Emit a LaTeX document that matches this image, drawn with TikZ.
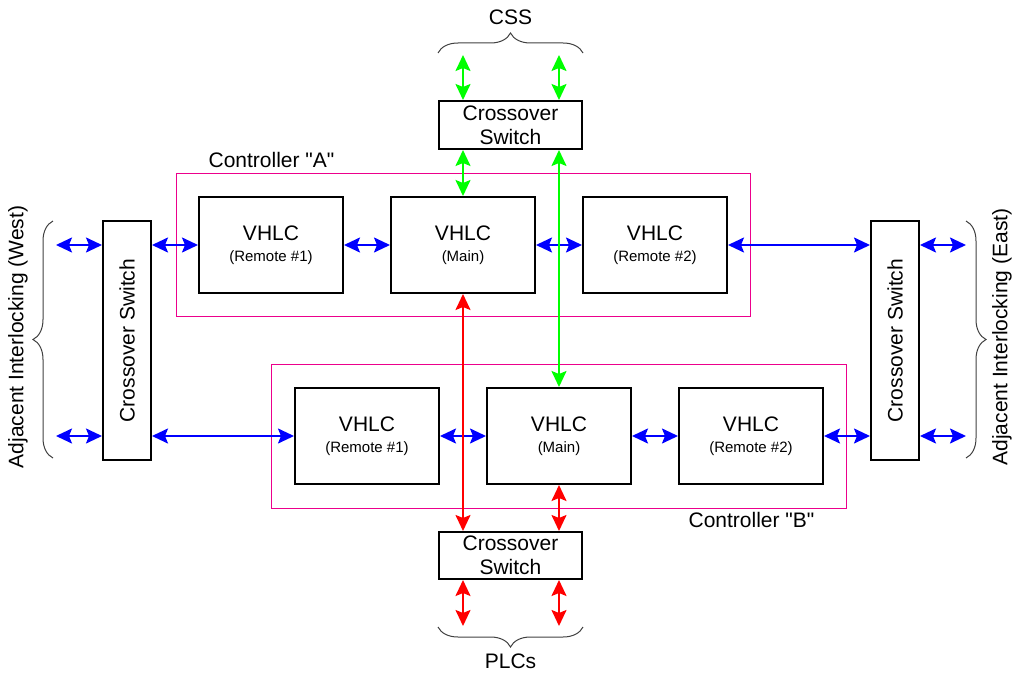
\documentclass[tikz,border=0pt]{standalone}
\usepackage{fontspec}
\setmainfont{Liberation Sans}[Ligatures=TeXOff]
\usetikzlibrary{arrows.meta,decorations.pathreplacing}
\begin{document}
\begin{tikzpicture}[x=1pt,y=-1pt,
  big/.style={font=\fontsize{21}{24}\selectfont},
  box/.style={draw, line width=2pt, minimum width=144pt, minimum height=96pt, align=center, inner sep=0pt, big},
  sw/.style={draw, line width=2pt, align=center, inner sep=0pt, big},
  ctrl/.style={draw=magenta, line width=1pt},
  tip/.tip={Stealth[length=16pt,width=15pt,inset=3pt]},
  dbl/.style={line width=2pt, tip-tip},
  blu/.style={dbl, color=blue},
  grn/.style={dbl, color=green},
  rd/.style={dbl, color=red},
  brc/.style={decorate, decoration={brace, amplitude=20pt}, line width=1pt, draw=black!75}
]
\useasboundingbox (0,0) rectangle (1015,677);
\newcommand{\sub}[1]{\\[-3pt]{\fontsize{15}{18}\selectfont #1}}
% controller frames
\draw[ctrl] (176,173) rectangle (750,316);
\draw[ctrl] (271,364) rectangle (846,508);
% labels
\node[big] (css) at (510.5,17) {CSS};
\node[big] (plc) at (510.5,661) {PLCs};
\node[big] (ca) at (271.5,160) {Controller "A"};
\node[big] (cb) at (751.5,520) {Controller "B"};
\node[big, rotate=90] (west) at (18,337) {Adjacent Interlocking (West)};
\node[big, rotate=90] (east) at (1002,337) {Adjacent Interlocking (East)};
% switches
\node[sw, minimum width=143pt, minimum height=48pt] (ts) at (510.5,125) {Crossover\\Switch};
\node[sw, minimum width=143pt, minimum height=47pt] (bs) at (510.5,555.5) {Crossover\\Switch};
\node[sw, minimum width=48pt, minimum height=239pt, label={[big, rotate=90]center:Crossover Switch}] (ls) at (127,340.5) {};
\node[sw, minimum width=48pt, minimum height=239pt, label={[big, rotate=90]center:Crossover Switch}] (rs) at (895,340.5) {};
% VHLC boxes
\node[box] (a1) at (271,245) {VHLC\sub{(Remote \#1)}};
\node[box] (a2) at (463,245) {VHLC\sub{(Main)}};
\node[box] (a3) at (655,245) {VHLC\sub{(Remote \#2)}};
\node[box] (b1) at (367,436) {VHLC\sub{(Remote \#1)}};
\node[box] (b2) at (559,436) {VHLC\sub{(Main)}};
\node[box] (b3) at (751,436) {VHLC\sub{(Remote \#2)}};
% free ends
\coordinate (w1) at (56,245);
\coordinate (w2) at (56,436);
\coordinate (e1) at (966,245);
\coordinate (e2) at (966,436);
\coordinate (g1) at (463,55);
\coordinate (g2) at (559,55);
\coordinate (r1) at (463,626);
\coordinate (r2) at (559,626);
% blue
\draw[blu] (w1) -- (w1 -| ls.west);
\draw[blu] (w2) -- (w2 -| ls.west);
\draw[blu] (ls.east |- a1) -- (a1.west);
\draw[blu] (ls.east |- b1) -- (b1.west);
\draw[blu] (a1) -- (a2);
\draw[blu] (a2) -- (a3);
\draw[blu] (a3.east) -- (a3.east -| rs.west);
\draw[blu] (b1) -- (b2);
\draw[blu] (b2) -- (b3);
\draw[blu] (b3.east) -- (b3.east -| rs.west);
\draw[blu] (rs.east |- e1) -- (e1);
\draw[blu] (rs.east |- e2) -- (e2);
% green
\draw[grn] (g1) -- (g1 |- ts.north);
\draw[grn] (g2) -- (g2 |- ts.north);
\draw[grn] (ts.south -| a2) -- (a2.north);
\draw[grn] (ts.south -| b2) -- (b2.north);
% red
\draw[rd] (a2.south) -- (a2.south |- bs.north);
\draw[rd] (b2.south) -- (b2.south |- bs.north);
\draw[rd] (bs.south -| r1) -- (r1);
\draw[rd] (bs.south -| r2) -- (r2);
% braces
\draw[brc] (438,53) -- (583,53);
\draw[brc] (583,627) -- (438,627);
\draw[brc] (53,458) -- (53,221);
\draw[brc] (966,221) -- (966,458);
\end{tikzpicture}
\end{document}
